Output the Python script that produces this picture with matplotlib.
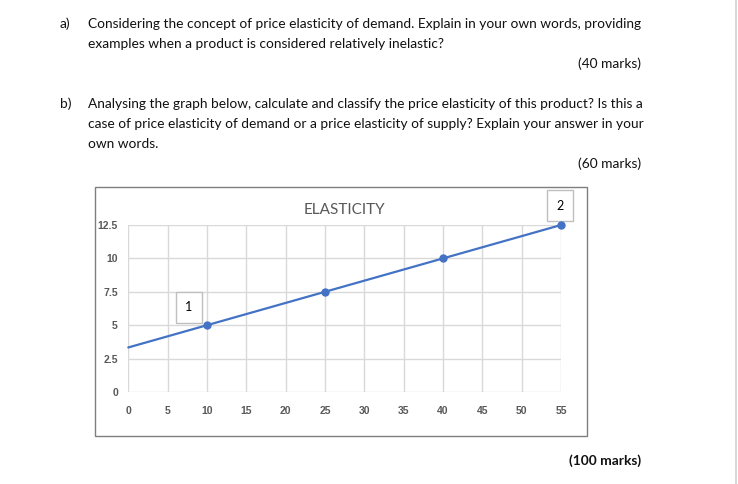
import matplotlib.pyplot as plt
from matplotlib.patches import Rectangle
from matplotlib.lines import Line2D

# chart data
x = [0, 10, 25, 40, 55]
y = [10 / 3, 5, 7.5, 10, 12.5]
marker_x = [10, 25, 40, 55]
marker_y = [5, 7.5, 10, 12.5]
box_x = [10, 55]
box_y = [5, 12.5]
box_text = ['1', '2']
x_ticks = list(range(0, 60, 5))
y_ticks = [0, 2.5, 5, 7.5, 10, 12.5]
y_ticklabels = ['0', '2.5', '5', '7.5', '10', '12.5']

question_a = ['Considering the concept of price elasticity of demand. Explain in your own words, providing',
              'examples when a product is considered relatively inelastic?']
question_b = ['Analysing the graph below, calculate and classify the price elasticity of this product? Is this a',
              'case of price elasticity of demand or a price elasticity of supply? Explain your answer in your',
              'own words.']

W, H = 738, 484
fig = plt.figure(figsize=(W / 100, H / 100), dpi=100)


def fx(px):
    return px / W


def fy(py):
    return 1 - py / H


font = 'Lato'
txt = dict(family=font, fontsize=9.9, color='#111111', va='center')

fig.text(fx(60), fy(24), 'a)', **txt)
for i, line in enumerate(question_a):
    fig.text(fx(88), fy(24 + 20 * i), line, **txt)
fig.text(fx(641), fy(64), '(40 marks)', ha='right', **txt)

fig.text(fx(60), fy(104), 'b)', **txt)
for i, line in enumerate(question_b):
    fig.text(fx(88), fy(104 + 20 * i), line, **txt)
fig.text(fx(641), fy(164), '(60 marks)', ha='right', **txt)
fig.text(fx(641), fy(461), '(100 marks)', ha='right', fontweight='bold', **txt)

# page edge
fig.add_artist(Line2D([fx(736), fx(736)], [0, 1], color='#d0d0d0', lw=1.2))

# chart frame
fig.add_artist(Rectangle((fx(95), fy(436)), fx(587 - 95), (436 - 187) / H,
                         fill=False, edgecolor='#7f7f7f', lw=1.0))

ax = fig.add_axes([fx(128.3), fy(392), fx(561 - 128.3), (392 - 225) / H])
ax.plot(x, y, color='#4472C4', lw=1.6, solid_capstyle='round', clip_on=False, zorder=3)
ax.plot(marker_x, marker_y, 'o', color='#4472C4', ms=5, clip_on=False, zorder=4)

ax.set_xlim(0, 55)
ax.set_ylim(0, 12.5)
ax.set_xticks(x_ticks)
ax.set_yticks(y_ticks)
ax.set_yticklabels(y_ticklabels)
ax.grid(True, color='#d9d9d9', lw=1.0)
ax.set_axisbelow(True)
for s in ax.spines.values():
    s.set_visible(False)
ax.tick_params(length=0, colors='#595959', labelsize=7.5)
ax.tick_params(axis='x', pad=10)
ax.tick_params(axis='y', pad=7.5)
for lab in ax.get_xticklabels() + ax.get_yticklabels():
    lab.set_fontweight('bold')
    lab.set_family('Liberation Sans')

ax.set_title('ELASTICITY', family=font, fontsize=11, color='#595959', pad=8)

offsets = [(-13, 13), (-1, 14)]
for bx, by, t, off in zip(box_x, box_y, box_text, offsets):
    ax.annotate(t, (bx, by), xytext=off, textcoords='offset points',
                ha='center', va='center', family=font, fontsize=9, color='#000000',
                bbox=dict(boxstyle='square,pad=0.75', fc='white', ec='#bfbfbf', lw=1.0),
                annotation_clip=False)

fig.savefig('out.png', dpi=100)
